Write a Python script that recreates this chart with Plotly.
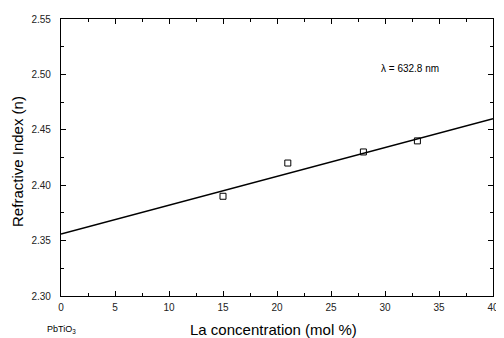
import plotly.graph_objects as go

# Data
la_conc = [15, 21, 28, 33]
refr_index = [2.39, 2.42, 2.43, 2.44]
fit_x = [0, 40]
fit_y = [2.356, 2.460]
x_ticks = [0, 5, 10, 15, 20, 25, 30, 35, 40]
y_ticks = [2.30, 2.35, 2.40, 2.45, 2.50, 2.55]

FONT = "Liberation Sans"

fig = go.Figure()
fig.add_trace(go.Scatter(x=fit_x, y=fit_y, mode="lines",
                         line=dict(color="black", width=1.5), showlegend=False))
fig.add_trace(go.Scatter(x=la_conc, y=refr_index, mode="markers",
                         marker=dict(symbol="square-open", size=6, color="black",
                                     line=dict(width=1)), showlegend=False))

fig.add_annotation(x=32.3, y=2.5055, text="λ = 632.8 nm", showarrow=False,
                   font=dict(size=10, color="black", family=FONT))
fig.add_annotation(x=-0.0365, y=-0.12, xref="paper", yref="paper", xanchor="left",
                   yanchor="middle", text="PbTiO<sub>3</sub>", showarrow=False,
                   font=dict(size=9, color="black", family=FONT))
fig.add_annotation(x=0.493, y=-0.12, xref="paper", yref="paper", xanchor="center",
                   yanchor="middle", text="La concentration (mol %)", showarrow=False,
                   font=dict(size=15, color="black", family=FONT))
fig.add_annotation(x=-0.1005, y=0.486, xref="paper", yref="paper", xanchor="center",
                   yanchor="middle", textangle=-90, text="Refractive Index (n)",
                   showarrow=False, font=dict(size=15, color="black", family=FONT))

axis_common = dict(showgrid=False, zeroline=False, showline=True, linecolor="black",
                   linewidth=1.2, mirror="ticks", ticks="inside", tickcolor="black",
                   ticklen=5, tickwidth=1, ticklabeloverflow="allow",
                   tickfont=dict(size=10, color="#222", family=FONT))

fig.update_xaxes(range=[0, 40], tickvals=x_ticks, ticklabelstandoff=2, **axis_common,
                 minor=dict(ticks="inside", dtick=2.5, ticklen=3, tickcolor="black"))
fig.update_yaxes(range=[2.30, 2.55], tickvals=y_ticks, tickformat=".2f",
                 ticklabelstandoff=7, **axis_common,
                 minor=dict(ticks="inside", dtick=0.025, ticklen=3, tickcolor="black"))

fig.update_layout(width=496, height=330, margin=dict(l=53, r=5, t=6, b=42),
                  plot_bgcolor="white", paper_bgcolor="white")

fig.write_html("out.html")
